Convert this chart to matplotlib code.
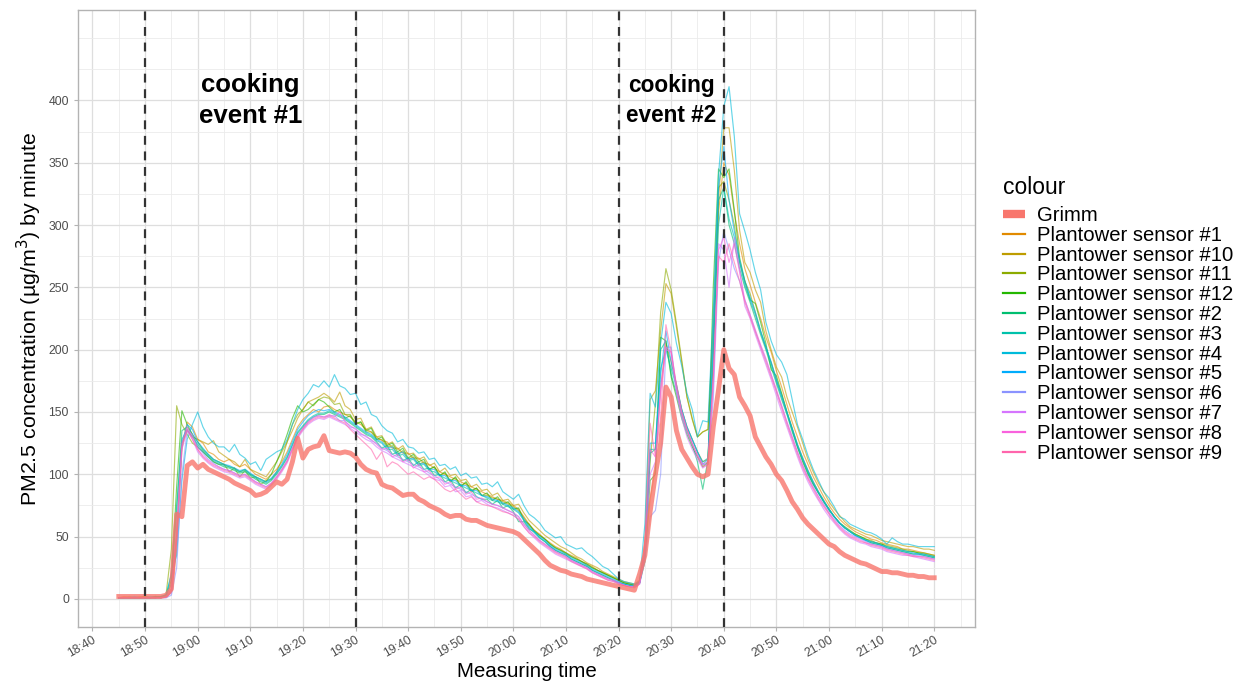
import numpy as np
import pandas as pd
import matplotlib
matplotlib.use("Agg")
import matplotlib.pyplot as plt
import matplotlib.dates as mdates
from matplotlib.ticker import MultipleLocator
from matplotlib.lines import Line2D

plt.rcParams['font.family'] = ['Liberation Sans', 'DejaVu Sans']


def parse(s):
    return [int(v) for v in s.split()]


start_time = "2020-01-01 18:45"

grimm = parse("""
2 2 2 2 2 2 2 2 2 3
8 68 66 107 110 105 108 104 102 100
98 96 93 91 89 87 83 84 86 90
94 92 96 110 129 113 120 122 123 131
119 118 117 118 117 114 108 104 102 101
92 90 89 86 83 84 84 80 78 75
73 71 68 66 67 67 64 63 63 61
59 58 57 56 55 54 52 48 44 40
36 31 27 25 23 22 20 19 18 16
15 14 13 12 11 10 9 8 7 20
35 70 100 125 170 162 135 120 113 106
100 98 100 138 168 200 185 180 162 155
147 130 122 114 108 100 95 87 78 72
65 60 56 52 48 44 42 38 35 33
31 29 28 26 24 22 22 21 21 20
19 19 18 18 17 17
""")

sensor_1 = parse("""
1 2 1 1 2 1 1 2 1 2
5 40 120 142 138 128 125 118 116 112
110 112 108 106 108 104 100 98 96 100
104 110 118 128 138 144 148 152 150 154
155 152 150 148 146 142 140 136 134 130
127 126 121 121 117 117 113 113 109 108
105 102 100 98 96 94 92 90 88 86
84 82 80 79 77 75 72 66 60 55
52 48 45 42 40 37 35 33 30 28
26 23 21 19 17 15 13 12 11 13
35 80 105 170 205 190 172 152 138 128
118 110 112 190 310 350 340 310 285 265
252 238 225 210 198 183 170 156 142 130
118 108 98 90 82 75 69 64 60 57
54 52 50 48 47 45 44 43 42 40
40 39 38 37 36 35
""")

sensor_10 = parse("""
1 1 2 1 1 2 1 1 2 2
8 50 125 135 130 128 126 124 127 118
115 112 110 106 112 104 102 100 98 104
110 118 126 135 145 152 158 160 162 165
162 158 166 155 152 144 145 136 138 130
131 124 126 120 123 116 117 112 114 107
109 102 105 99 100 95 96 90 92 87
88 83 85 79 80 75 76 69 63 59
55 51 48 45 42 40 37 34 32 29
27 25 22 20 18 16 14 13 12 15
45 160 167 215 253 245 218 190 162 145
130 134 136 210 320 378 378 344 296 270
262 248 238 215 200 186 178 162 150 138
125 112 102 93 86 78 72 67 62 58
56 54 52 51 49 47 46 45 44 43
42 42 41 40 40 39
""")

sensor_11 = parse("""
1 1 1 1 1 2 1 2 1 4
40 155 140 132 125 122 118 114 110 108
108 102 105 98 103 97 98 92 95 96
102 112 126 140 148 152 158 155 160 162
161 156 157 148 148 141 142 134 134 128
128 122 123 116 119 112 114 108 110 104
106 99 101 95 97 91 93 86 89 83
83 81 80 78 76 74 71 65 59 55
51 48 44 41 39 36 34 32 30 27
25 23 21 19 17 15 13 12 11 14
38 110 157 230 265 248 221 192 162 144
130 134 136 220 330 335 320 300 270 255
245 230 215 202 190 176 164 150 137 124
113 103 94 86 79 72 66 61 57 54
52 50 48 47 45 44 43 42 41 40
39 38 37 37 36 35
""")

sensor_12 = parse("""
1 1 1 1 1 1 1 1 2 3
15 90 151 140 132 126 120 116 112 110
108 106 105 102 104 100 98 96 94 100
110 120 132 145 155 150 152 156 160 158
154 150 152 145 147 140 142 135 137 128
130 123 125 118 121 113 116 110 112 104
106 99 102 94 98 90 94 87 89 83
85 79 82 76 78 72 73 63 60 54
51 48 44 41 39 37 34 32 30 28
25 23 21 19 17 15 13 12 11 13
30 95 100 210 207 178 162 145 132 122
114 106 110 250 345 338 345 312 274 255
240 237 222 205 184 179 165 150 136 122
110 100 92 85 78 72 66 61 58 55
52 50 48 46 45 44 42 41 40 39
38 38 37 36 35 34
""")

sensor_2 = parse("""
1 1 1 1 1 1 1 1 1 2
12 70 135 138 132 122 118 114 110 108
106 105 103 101 102 99 96 94 92 95
100 106 113 123 133 138 143 146 148 148
150 148 146 144 141 138 135 132 130 126
121 123 116 118 111 113 107 110 104 105
99 100 94 96 89 92 85 88 82 80
80 76 79 73 75 70 62 62 56 54
49 46 42 39 37 35 32 30 28 26
23 21 19 17 15 13 12 11 10 13
35 117 120 200 207 180 165 148 135 124
110 88 112 190 320 330 300 285 265 250
238 225 212 200 186 173 160 148 134 122
111 101 92 85 78 71 66 61 57 54
51 49 47 45 44 43 41 40 39 38
37 36 36 35 34 33
""")

sensor_3 = parse("""
1 1 1 1 1 1 1 2 1 3
20 75 128 136 130 124 119 115 111 109
107 106 104 102 103 100 97 95 93 96
101 107 114 124 134 139 144 147 149 149
151 149 147 145 142 139 136 133 131 127
125 120 120 115 116 111 112 107 108 103
102 99 97 95 93 91 89 87 85 83
81 79 78 76 74 72 69 63 57 53
49 46 42 39 37 35 32 30 28 26
23 21 19 17 15 13 12 11 10 13
38 120 120 185 200 185 170 152 138 128
118 110 113 200 300 330 305 290 270 252
240 228 214 202 189 175 162 149 136 123
112 102 93 85 78 72 66 61 57 54
51 49 47 45 44 43 41 40 39 38
37 36 36 35 34 33
""")

sensor_4 = parse("""
1 1 1 2 1 1 2 1 2 3
20 35 95 128 140 150 138 130 125 122
122 118 124 116 113 108 110 103 112 115
118 120 128 140 152 160 165 172 170 175
170 180 171 169 164 165 156 158 148 146
139 135 133 126 128 122 121 117 118 112
113 107 108 104 106 99 101 97 98 92
93 90 94 86 83 80 84 75 68 65
61 55 52 49 50 44 42 40 41 37
34 30 26 24 20 16 14 13 12 14
60 165 154 205 238 229 205 187 165 152
130 143 142 230 340 395 411 371 309 295
280 262 248 222 207 196 190 180 160 140
128 115 104 95 86 81 74 66 64 60
58 56 54 53 51 48 44 49 46 44
44 43 42 42 42 42
""")

sensor_5 = parse("""
1 1 1 1 1 1 1 1 1 2
6 50 125 140 136 126 121 116 112 110
108 107 105 103 104 101 98 96 94 97
102 108 116 126 136 142 147 150 152 151
152 150 148 146 143 140 137 134 132 128
126 121 122 116 118 112 113 108 109 104
104 99 99 95 95 91 91 87 87 83
82 80 79 77 75 73 70 64 58 54
50 47 43 40 38 36 33 31 29 27
24 22 20 18 16 14 12 11 11 13
35 125 125 180 215 190 172 152 138 128
118 108 112 210 330 363 320 295 272 255
242 230 215 202 190 176 163 150 137 124
113 103 94 86 79 72 66 61 57 54
51 49 47 46 45 43 42 41 40 39
38 37 36 36 35 34
""")

sensor_6 = parse("""
1 1 1 1 1 1 1 1 1 1
3 25 100 135 132 122 117 112 109 106
104 103 101 99 100 97 94 92 90 93
98 104 111 121 131 137 142 146 147 146
147 147 143 143 138 137 132 131 127 125
121 119 116 114 112 110 108 106 104 101
99 96 94 92 90 88 86 84 82 80
78 76 75 73 71 69 66 60 55 51
47 44 41 38 36 34 31 29 27 25
22 20 18 16 15 13 11 10 10 12
30 66 71 100 202 202 168 148 134 124
115 108 108 160 270 295 280 265 255 240
228 215 203 192 180 167 155 142 130 118
107 98 90 82 76 69 64 59 55 52
50 48 46 44 43 42 40 39 38 37
36 35 35 34 33 32
""")

sensor_7 = parse("""
1 1 1 1 1 1 1 1 1 1
5 45 120 135 128 118 113 109 106 104
102 101 99 97 98 95 92 90 88 91
96 102 109 119 129 135 140 143 145 144
146 144 142 140 137 134 131 128 126 122
119 117 114 112 110 108 106 104 102 99
96 95 90 91 86 87 82 83 78 79
76 74 73 71 69 67 64 58 53 49
45 42 39 36 34 32 30 28 26 24
21 19 17 15 14 12 11 10 9 12
35 100 110 170 200 198 165 145 130 120
112 105 108 170 285 280 250 290 265 235
225 212 200 188 176 163 150 138 126 114
103 94 86 79 72 66 61 56 52 49
47 45 44 42 41 40 38 37 36 35
35 34 33 32 31 30
""")

sensor_8 = parse("""
1 1 1 1 1 1 1 1 1 2
8 55 125 138 130 120 115 111 108 106
104 103 101 99 100 97 94 92 90 93
98 104 111 121 131 137 142 145 147 146
148 146 150 142 139 136 133 130 128 124
120 121 114 116 110 112 105 108 102 103
97 98 92 94 88 90 84 86 80 81
78 76 75 73 71 69 66 60 55 51
47 44 41 38 36 34 31 29 27 25
22 20 18 16 15 13 11 10 10 13
40 120 114 165 202 198 170 150 136 125
115 108 110 180 280 290 270 285 262 240
228 216 204 193 180 168 155 142 130 118
107 97 89 82 75 69 63 58 54 51
49 47 45 44 43 42 40 39 38 37
36 35 34 34 33 32
""")

sensor_9 = parse("""
1 1 1 1 1 1 1 1 1 2
6 50 122 136 128 120 114 110 107 105
103 102 100 98 99 96 93 91 89 92
97 103 110 120 130 136 141 144 146 145
147 145 143 141 136 132 128 124 120 112
118 106 110 108 104 100 102 99 96 98
96 92 88 86 88 84 80 82 78 76
75 74 72 70 69 67 64 58 53 50
46 43 40 37 35 33 30 28 26 24
21 19 17 15 14 12 11 10 9 12
45 141 114 146 220 198 172 150 136 124
115 106 108 175 275 270 285 270 255 238
226 214 202 190 178 166 153 140 128 116
105 96 88 80 74 68 62 57 53 50
48 46 45 43 42 41 39 38 37 36
35 34 34 33 32 31
""")

series_names = ["Grimm", "Plantower sensor #1", "Plantower sensor #10",
                "Plantower sensor #11", "Plantower sensor #12",
                "Plantower sensor #2", "Plantower sensor #3",
                "Plantower sensor #4", "Plantower sensor #5",
                "Plantower sensor #6", "Plantower sensor #7",
                "Plantower sensor #8", "Plantower sensor #9"]
series_values = [grimm, sensor_1, sensor_10, sensor_11, sensor_12, sensor_2,
                 sensor_3, sensor_4, sensor_5, sensor_6, sensor_7, sensor_8,
                 sensor_9]
colours = ["#F8766D", "#E18A00", "#BE9C00", "#8CAB00", "#24B700", "#00BE70",
           "#00C1AB", "#00BBDA", "#00ACFC", "#8B93FF", "#D575FE", "#F962DD",
           "#FF65AC"]

tick_labels = ["18:40", "18:50", "19:00", "19:10", "19:20", "19:30", "19:40",
               "19:50", "20:00", "20:10", "20:20", "20:30", "20:40", "20:50",
               "21:00", "21:10", "21:20"]
y_ticks = [0, 50, 100, 150, 200, 250, 300, 350, 400]
event_lines = ["18:50", "19:30", "20:20", "20:40"]
event_labels = [("19:10", 400, "cooking\nevent #1", 18.5),
                ("20:30", 400, "cooking\nevent #2", 16.3)]

day = "2020-01-01 "
times = pd.date_range(start_time, periods=len(grimm), freq="1min")


def t(s):
    return mdates.date2num(pd.Timestamp(day + s))


W, H = 1244, 685
fig = plt.figure(figsize=(W / 100, H / 100), dpi=100)
ax = fig.add_axes([78 / W, 1 - 627 / H, (975 - 78) / W, (627 - 10) / H])

ax.set_facecolor("white")
for s in ax.spines.values():
    s.set_color("#B3B3B3")
    s.set_linewidth(1.0)

# grid
ax.set_axisbelow(True)
ax.grid(which="major", color="#DEDEDE", linewidth=0.9)
ax.grid(which="minor", color="#EBEBEB", linewidth=0.6)

# sensors
for name, vals, col in zip(series_names[1:], series_values[1:], colours[1:]):
    ax.plot(times, vals, color=col, lw=0.85, alpha=0.6, zorder=3)
ax.plot(times, series_values[0], color=colours[0], lw=3.5, alpha=0.8,
        zorder=4, solid_joinstyle="round")

for e in event_lines:
    ax.axvline(t(e), color="#333333", lw=1.6, linestyle=(0, (4, 3)), zorder=5)

for xs, yv, txt, fs in event_labels:
    ax.text(t(xs), yv, txt, ha="center", va="center", fontsize=fs,
            fontweight="bold", linespacing=1.35, zorder=6)

ax.set_xlim(t("18:37") + 0.25 / 1440, t("21:27") + 0.75 / 1440)
ax.set_ylim(-22.5, 472.5)
ax.set_xticks([t(s) for s in tick_labels])
ax.set_xticklabels(tick_labels, rotation=30, ha="right", rotation_mode="anchor")
ax.xaxis.set_minor_locator(mdates.MinuteLocator(byminute=[5, 15, 25, 35, 45, 55]))
ax.set_yticks(y_ticks)
ax.set_yticklabels([str(v) for v in y_ticks])
ax.yaxis.set_minor_locator(MultipleLocator(25))

ax.tick_params(axis="both", which="major", colors="#B3B3B3", length=3,
               width=0.8, labelcolor="#4D4D4D", labelsize=8.8)
ax.tick_params(axis="x", pad=2)
ax.tick_params(axis="both", which="minor", length=0)

ax.set_xlabel("Measuring time", fontsize=14.8, labelpad=2)
ax.set_ylabel("PM2.5 concentration (\u00b5g/m$^3$) by minute", fontsize=15.4,
              labelpad=3)

# legend
fig.text(1003 / W, 1 - 187 / H, "colour", fontsize=16.5, ha="left",
         va="center")
handles = [Line2D([], [], color=colours[0], lw=6, solid_capstyle="butt")]
handles += [Line2D([], [], color=c, lw=1.6) for c in colours[1:]]
leg = fig.legend(handles, series_names, loc="upper left",
                 bbox_to_anchor=(1003 / W, 1 - 206 / H), frameon=False,
                 fontsize=14.6, handlelength=1.1, handletextpad=0.6,
                 labelspacing=0.04, borderaxespad=0, borderpad=0)

fig.savefig("out.png", dpi=100)
